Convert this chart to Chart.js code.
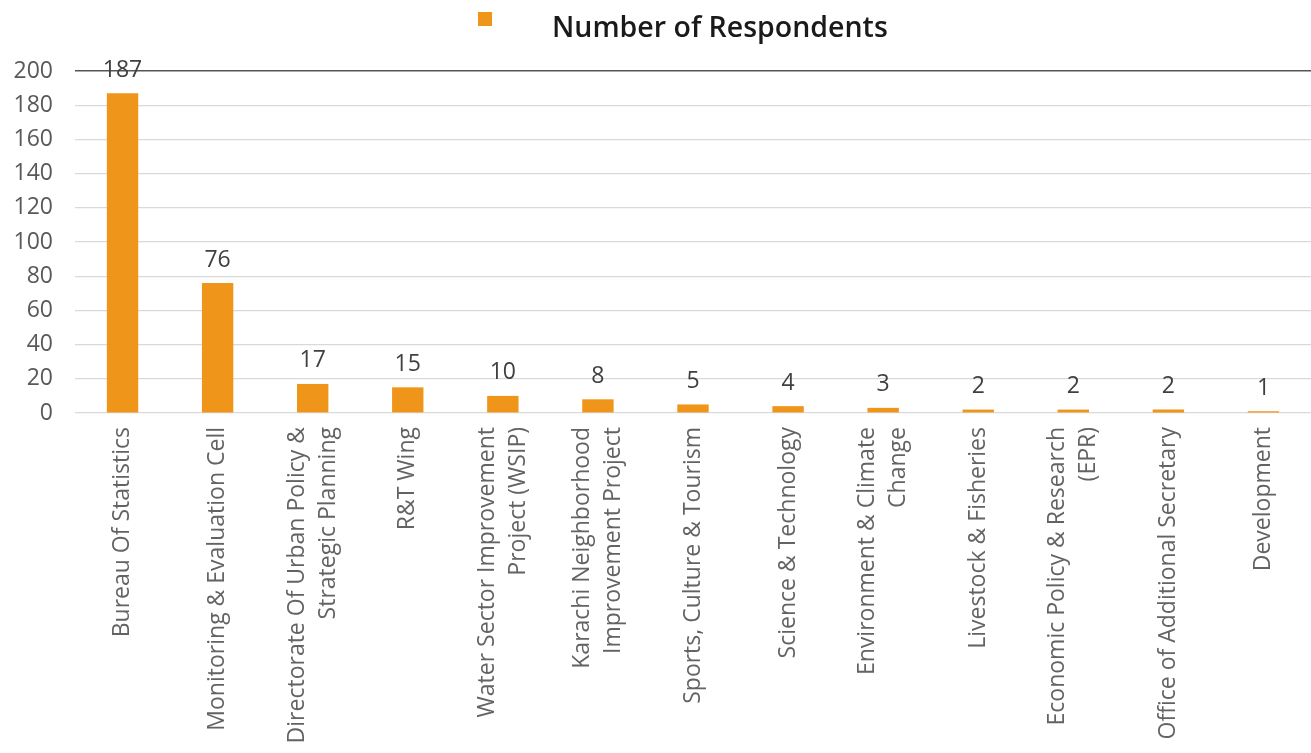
<!DOCTYPE html>
<html>
<head>
<meta charset="utf-8">
<script src="https://cdn.jsdelivr.net/npm/chart.js@4/dist/chart.umd.min.js"></script>
<style>
  html, body { margin: 0; padding: 0; background: #fff; }
  #wrap { position: relative; width: 1311px; height: 753px; }
  #legend { position: absolute; left: 478px; top: 7px; font-family: "Open Sans", sans-serif; font-size: 28.5px; font-weight: 600; color: #1a1a1a; white-space: nowrap; }
  #legend .box { position: absolute; left: 0; top: 5px; width: 14px; height: 14px; background: #EF9519; }
  #legend .txt { position: absolute; left: 74px; top: 0; }
</style>
</head>
<body>
<div id="wrap">
  <canvas id="graph" width="1311" height="753"></canvas>
  <div id="legend"><span class="box"></span><span class="txt">Number of Respondents</span></div>
</div>
<script>
const departments = [
    'Bureau Of Statistics',
    'Monitoring & Evaluation Cell',
    ['Directorate Of Urban Policy &', 'Strategic Planning'],
    'R&T Wing',
    ['Water Sector Improvement', 'Project (WSIP)'],
    ['Karachi Neighborhood', 'Improvement Project'],
    'Sports, Culture & Tourism',
    'Science & Technology',
    ['Environment & Climate', 'Change'],
    'Livestock & Fisheries',
    ['Economic Policy & Research', '(EPR)'],
    'Office of Additional Secretary',
    'Development'
];
const respondents = [187, 76, 17, 15, 10, 8, 5, 4, 3, 2, 2, 2, 1];

const seriesName = 'Number of Respondents';
const barColor = '#EF9519';
const fontFamily = '"Open Sans", sans-serif';

// value labels above each bar
const valueLabels = {
    id: 'valueLabels',
    afterDatasetsDraw(chart) {
        const ctx = chart.ctx;
        const meta = chart.getDatasetMeta(0);
        ctx.save();
        ctx.font = '23px ' + fontFamily;
        ctx.fillStyle = '#404040';
        ctx.textAlign = 'center';
        ctx.textBaseline = 'middle';
        meta.data.forEach((bar, i) => {
            ctx.fillText(String(chart.data.datasets[0].data[i]), bar.x, bar.y - 23);
        });
        ctx.restore();
    }
};

// vertical category labels, multi-line ones centred on the tick
const categoryLabels = {
    id: 'categoryLabels',
    afterDraw(chart) {
        const ctx = chart.ctx;
        const xScale = chart.scales.x;
        const lineHeight = 31;
        ctx.save();
        ctx.font = '23px ' + fontFamily;
        ctx.fillStyle = '#636363';
        ctx.textAlign = 'right';
        ctx.textBaseline = 'middle';
        chart.data.labels.forEach((label, i) => {
            const lines = Array.isArray(label) ? label : [label];
            const px = xScale.getPixelForTick(i);
            ctx.save();
            ctx.translate(px, xScale.top + 14);
            ctx.rotate(-Math.PI / 2);
            lines.forEach((line, j) => {
                ctx.fillText(line, 0, (j - (lines.length - 1) / 2) * lineHeight);
            });
            ctx.restore();
        });
        ctx.restore();
    }
};

const config = {
    type: 'bar',
    data: {
        labels: departments,
        datasets: [{
            label: seriesName,
            data: respondents,
            backgroundColor: barColor,
            borderWidth: 0,
            categoryPercentage: 1,
            barPercentage: 0.33
        }]
    },
    options: {
        responsive: false,
        animation: false,
        layout: { padding: { top: 71, right: 0, left: 0, bottom: 0 } },
        plugins: {
            legend: { display: false },
            tooltip: { enabled: false }
        },
        scales: {
            x: {
                grid: { display: false },
                border: { display: false },
                ticks: { display: false, autoSkip: false },
                afterFit(scale) { scale.height = 340; }
            },
            y: {
                min: 0,
                max: 200,
                border: { display: false },
                grid: {
                    drawTicks: false,
                    color: ctx => ctx.tick && ctx.tick.value === 200 ? '#555555' : '#d9d9d9',
                    lineWidth: ctx => ctx.tick && ctx.tick.value === 200 ? 1.6 : 1.2
                },
                ticks: {
                    stepSize: 20,
                    padding: 22,
                    color: '#595959',
                    font: { family: fontFamily, size: 23 }
                },
                afterFit(scale) { scale.width = 75; }
            }
        }
    },
    plugins: [valueLabels, categoryLabels]
};

const graph = new Chart(document.getElementById('graph'), config);
</script>
</body>
</html>
